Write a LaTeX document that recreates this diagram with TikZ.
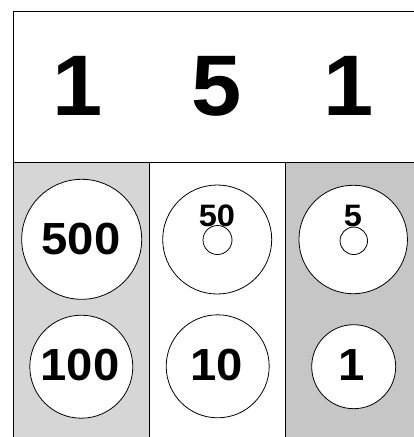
\documentclass[tikz,border=0pt]{standalone}
\usepackage{fontspec}
\setmainfont{Liberation Sans}
\definecolor{colA}{HTML}{D6D6D6}
\definecolor{colC}{HTML}{C6C6C6}
\newcommand{\widetext}[2]{\fontsize{#1}{#1}\selectfont\bfseries\scalebox{1.05}[1]{#2}}
\begin{document}
\begin{tikzpicture}[x=1pt,y=-1pt,
  frame/.style={draw=black,line width=0.8pt},
  coin/.style={circle,draw=black,line width=0.8pt,fill=white,inner sep=0pt},
  hole/.style={circle,draw=black,line width=0.8pt,inner sep=0pt},
  lab/.style={inner sep=0pt}]
\useasboundingbox (0,0) rectangle (414,437);
\begin{scope}
\clip (0,0) rectangle (414,437);
\fill[colA] (13,162) rectangle (149,445);
\fill[white] (149,162) rectangle (285,445);
\fill[colC] (285,162) rectangle (421,445);
\draw[frame] (13,11) rectangle (421,445);
\draw[frame] (13,162) -- (421,162);
\draw[frame] (149,162) -- (149,445);
\draw[frame] (285,162) -- (285,445);
\end{scope}
% top digits
\node[lab] (t1) at (78,86) {\widetext{86}{1}};
\node[lab] (t2) at (217,86) {\widetext{86}{5}};
\node[lab] (t3) at (349,86) {\widetext{86}{1}};
% coins
\node[coin,minimum size=120pt] (c500) at (81.7,239.3) {};
\node[lab] (l500) at (81,239) {\widetext{45}{500}};
\node[coin,minimum size=103pt] (c100) at (81.3,366.7) {};
\node[lab] (l100) at (80,365) {\widetext{45}{100}};
\node[coin,minimum size=109pt] (c50) at (217.2,239.5) {};
\node[hole,minimum size=29pt] (h50) at (217.5,240) {};
\node[lab] (l50) at (217,215.5) {\widetext{31}{50}};
\node[coin,minimum size=103pt] (c10) at (217.7,366.3) {};
\node[lab] (l10) at (217,365) {\widetext{45}{10}};
\node[coin,minimum size=108.5pt] (c5) at (353.2,239.5) {};
\node[hole,minimum size=27.5pt] (h5) at (353.8,240.8) {};
\node[lab] (l5) at (353,215.5) {\widetext{31}{5}};
\node[coin,minimum size=84pt] (c1) at (353.7,366.7) {};
\node[lab] (l1) at (352,365) {\widetext{45}{1}};
\end{tikzpicture}
\end{document}
